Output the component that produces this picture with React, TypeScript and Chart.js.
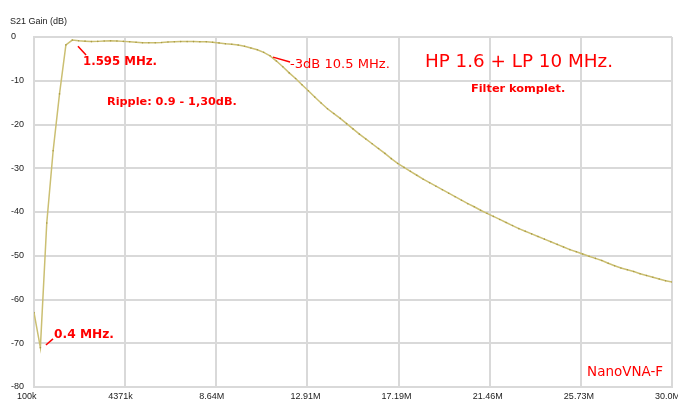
import { useEffect, useRef } from "react";
import { Chart, registerables } from "chart.js";

Chart.register(...registerables);

// Sweep frequencies (MHz), 101 points, NanoVNA-F
const freqMHz = [
  0.1, 0.399, 0.698, 0.997, 1.296, 1.595, 1.894, 2.193, 2.492, 2.791, 3.09,
  3.389, 3.688, 3.987, 4.286, 4.585, 4.884, 5.183, 5.482, 5.781, 6.08,
  6.379, 6.678, 6.977, 7.276, 7.575, 7.874, 8.173, 8.472, 8.771, 9.07,
  9.369, 9.668, 9.967, 10.266, 10.565, 10.864, 11.163, 11.462, 11.761, 12.06,
  12.359, 12.658, 12.957, 13.256, 13.555, 13.854, 14.153, 14.452, 14.751, 15.05,
  15.349, 15.648, 15.947, 16.246, 16.545, 16.844, 17.143, 17.442, 17.741, 18.04,
  18.339, 18.638, 18.937, 19.236, 19.535, 19.834, 20.133, 20.432, 20.731, 21.03,
  21.329, 21.628, 21.927, 22.226, 22.525, 22.824, 23.123, 23.422, 23.721, 24.02,
  24.319, 24.618, 24.917, 25.216, 25.515, 25.814, 26.113, 26.412, 26.711, 27.01,
  27.309, 27.608, 27.907, 28.206, 28.505, 28.804, 29.103, 29.402, 29.701, 30.0,
];

// S21 gain (dB)
const s21Gain = [
  -63, -71, -42.5, -26, -13, -1.8, -0.7, -0.85, -0.95, -1.05, -1.0,
  -0.9, -0.85, -0.9, -1.0, -1.1, -1.2, -1.3, -1.3, -1.3, -1.25,
  -1.15, -1.1, -1.05, -1.05, -1.05, -1.1, -1.1, -1.2, -1.35, -1.55,
  -1.65, -1.85, -2.1, -2.5, -2.9, -3.5, -4.3, -5.5, -6.8, -8.2,
  -9.5, -10.9, -12.3, -13.7, -15.1, -16.4, -17.5, -18.6, -19.8, -21,
  -22.2, -23.3, -24.4, -25.5, -26.6, -27.8, -28.9, -29.8, -30.7, -31.6,
  -32.5, -33.3, -34.1, -34.9, -35.7, -36.5, -37.3, -38.1, -38.8, -39.6,
  -40.3, -41, -41.7, -42.4, -43.1, -43.8, -44.4, -45, -45.6, -46.2,
  -46.8, -47.4, -48, -48.6, -49.1, -49.6, -50.1, -50.6, -51.1, -51.7,
  -52.3, -52.8, -53.2, -53.6, -54.1, -54.5, -54.9, -55.3, -55.7, -56,
];

const xTickValues = [0.1, 4.371, 8.643, 12.914, 17.186, 21.457, 25.729, 30.0];
const xTickLabels = ["100k", "4371k", "8.64M", "12.91M", "17.19M", "21.46M", "25.73M", "30.0M"];

const yAxisTitle = "S21 Gain (dB)";

// Hand-written annotations (in data coordinates: MHz, dB)
const notes = [
  { text: "1.595 MHz.", x: 2.4, xEnd: 5.87, y: -5.7, bold: true },
  { text: "Ripple: 0.9 - 1,30dB.", x: 3.52, xEnd: 9.61, y: -14.9, bold: true },
  { text: "-3dB 10.5 MHz.", x: 12.1, xEnd: 16.78, y: -6.4, bold: false },
  { text: "HP 1.6 + LP 10 MHz.", x: 18.42, xEnd: 27.24, y: -5.7, bold: false },
  { text: "Filter komplet.", x: 20.58, xEnd: 25.0, y: -11.9, bold: true },
  { text: "0.4 MHz.", x: 1.04, xEnd: 3.85, y: -68.1, bold: true },
  { text: "NanoVNA-F", x: 26.02, xEnd: 29.58, y: -76.8, bold: false },
];
const pointers = [
  { x1: 2.16, y1: -2.1, x2: 2.54, y2: -4.1 },
  { x1: 11.3, y1: -4.6, x2: 12.1, y2: -5.7 },
  { x1: 0.66, y1: -70.4, x2: 0.99, y2: -69.0 },
];

const GRID = "#d9d9d9";
const TICK_FONT = "'Liberation Sans', Arial, sans-serif";
const NOTE_FONT = "'Comic Sans MS', 'DejaVu Sans', sans-serif";

const overlayPlugin = {
  id: "overlay",
  afterDraw(chart: any) {
    const ctx = chart.ctx as CanvasRenderingContext2D;
    const xs = chart.scales.x;
    const ys = chart.scales.y;
    ctx.save();
    // axis title
    ctx.fillStyle = "#222";
    ctx.font = `9px ${TICK_FONT}`;
    ctx.textAlign = "left";
    ctx.textBaseline = "middle";
    ctx.fillText(yAxisTitle, 10, 22);

    // pointers
    ctx.strokeStyle = "#ff0000";
    ctx.lineWidth = 1.5;
    for (const p of pointers) {
      ctx.beginPath();
      ctx.moveTo(xs.getPixelForValue(p.x1), ys.getPixelForValue(p.y1));
      ctx.lineTo(xs.getPixelForValue(p.x2), ys.getPixelForValue(p.y2));
      ctx.stroke();
    }
    // notes
    ctx.fillStyle = "#ff0000";
    for (const n of notes) {
      const x0 = xs.getPixelForValue(n.x);
      const x1 = xs.getPixelForValue(n.xEnd);
      const weight = n.bold ? "bold" : "normal";
      ctx.font = `${weight} 20px ${NOTE_FONT}`;
      const w = ctx.measureText(n.text).width;
      const size = (20 * (x1 - x0)) / w;
      ctx.font = `${weight} ${size.toFixed(2)}px ${NOTE_FONT}`;
      ctx.fillText(n.text, x0, ys.getPixelForValue(n.y));
    }
    ctx.restore();
  },
};

export default function App() {
  const ref = useRef<HTMLCanvasElement | null>(null);
  useEffect(() => {
    if (!ref.current) return;
    const chart = new Chart(ref.current, {
      type: "line",
      data: {
        datasets: [
          {
            data: freqMHz.map((f, i) => ({ x: f, y: s21Gain[i] })),
            borderColor: "#cbbf72",
            borderWidth: 1.5,
            pointRadius: 0.8,
            pointBorderWidth: 0,
            pointBackgroundColor: "#a99b45",
            tension: 0,
          },
        ],
      },
      options: {
        responsive: false,
        animation: false,
        devicePixelRatio: 1,
        layout: { padding: { top: 37, left: 11, right: 6, bottom: 0 } },
        plugins: { legend: { display: false }, tooltip: { enabled: false }, title: { display: false } },
        scales: {
          x: {
            type: "linear",
            min: 0.1,
            max: 30,
            afterBuildTicks: (s: any) => {
              s.ticks = xTickValues.map((v) => ({ value: v }));
            },
            afterFit: (s: any) => {
              s.height = 13;
              s.paddingLeft = 0;
              s.paddingRight = 0;
            },
            grid: { color: GRID, lineWidth: 2, drawTicks: false },
            border: { display: true, color: GRID, width: 2 },
            ticks: {
              autoSkip: false,
              maxRotation: 0,
              minRotation: 0,
              align: "start",
              labelOffset: -17,
              padding: 4,
              color: "#222",
              font: { family: TICK_FONT, size: 9 },
              callback: (_v: any, i: number) => xTickLabels[i],
            },
          },
          y: {
            min: -80,
            max: 0,
            afterFit: (s: any) => {
              s.width = 23;
              s.paddingTop = 0;
              s.paddingBottom = 0;
            },
            grid: { color: GRID, lineWidth: 2, drawTicks: false },
            border: { display: true, color: GRID, width: 2 },
            ticks: {
              stepSize: 10,
              crossAlign: "far",
              padding: 4,
              color: "#222",
              font: { family: TICK_FONT, size: 9 },
            },
          },
        },
      } as any,
      plugins: [overlayPlugin],
    });
    return () => chart.destroy();
  }, []);
  return (
    <div style={{ position: "absolute", left: 0, top: 0, width: 678, height: 400, background: "#fff" }}>
      <canvas ref={ref} width={678} height={400} style={{ display: "block", width: 678, height: 400 }} />
    </div>
  );
}
